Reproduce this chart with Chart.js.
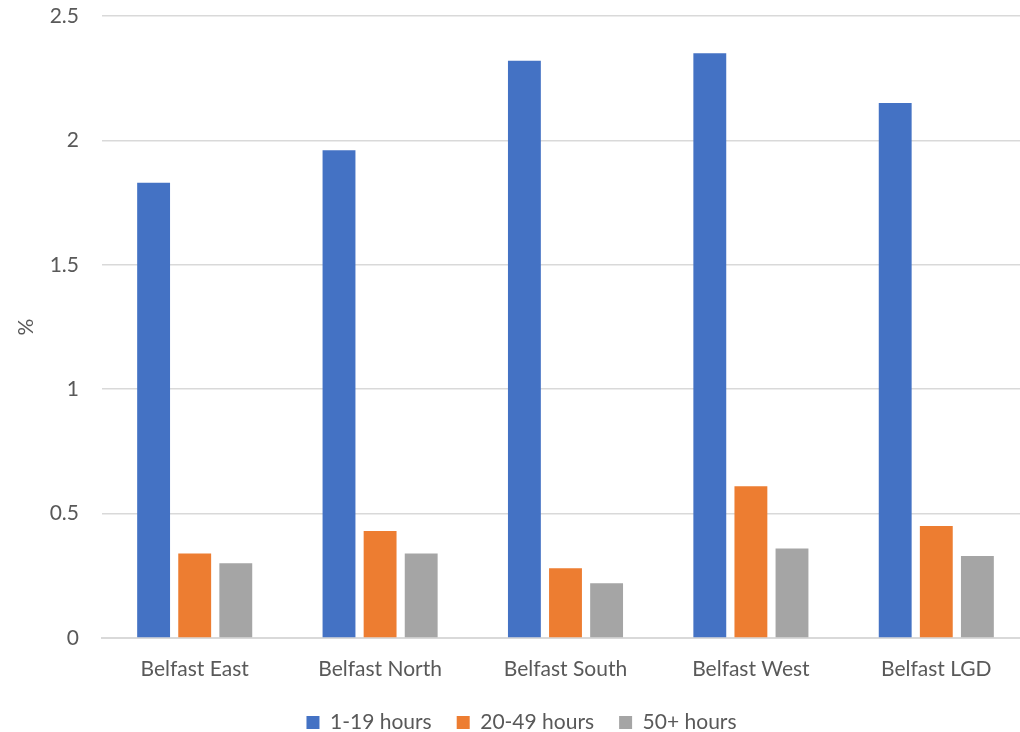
<!DOCTYPE html>
<html lang="en">
<head>
    <meta charset="UTF-8">
    <title>Hours of care by area</title>
    <script src="https://cdn.jsdelivr.net/npm/chart.js"></script>
    <style>
        html, body { margin: 0; padding: 0; background: #fff; overflow: hidden; }
        .wrap { width: 1029px; height: 732px; }
    </style>
</head>
<body>
    <div class="wrap"><canvas id="chart" width="1029" height="732"></canvas></div>

    <script>
        // data
        const areas = ['Belfast East', 'Belfast North', 'Belfast South', 'Belfast West', 'Belfast LGD'];
        const hours1to19 = [1.83, 1.96, 2.32, 2.35, 2.15];
        const hours20to49 = [0.34, 0.43, 0.28, 0.61, 0.45];
        const hours50plus = [0.30, 0.34, 0.22, 0.36, 0.33];
        const seriesNames = ['1-19 hours', '20-49 hours', '50+ hours'];
        const yTicks = [0, 0.5, 1, 1.5, 2, 2.5];

        const textColor = '#595959';
        const fontFamily = 'Lato, "Open Sans", sans-serif';

        new Chart(document.getElementById('chart'), {
            type: 'bar',
            data: {
                labels: areas,
                datasets: [
                    { label: seriesNames[0], data: hours1to19, backgroundColor: '#4472C4' },
                    { label: seriesNames[1], data: hours20to49, backgroundColor: '#ED7D31' },
                    { label: seriesNames[2], data: hours50plus, backgroundColor: '#A5A5A5' }
                ]
            },
            options: {
                responsive: false,
                animation: false,
                layout: { padding: { top: 16, left: 14, right: 0, bottom: -11 } },
                datasets: {
                    bar: { barPercentage: 0.8, categoryPercentage: 0.665 }
                },
                plugins: {
                    legend: {
                        position: 'bottom',
                        labels: {
                            boxWidth: 13,
                            boxHeight: 13,
                            padding: 25,
                            color: textColor,
                            font: { family: fontFamily, size: 21 }
                        }
                    },
                    tooltip: { enabled: false }
                },
                scales: {
                    x: {
                        grid: { display: false, drawTicks: false },
                        border: { color: '#d9d9d9', width: 2 },
                        ticks: {
                            color: textColor,
                            padding: 19,
                            font: { family: fontFamily, size: 21 }
                        },
                        afterFit: scale => { scale.height = 49; }
                    },
                    y: {
                        min: 0,
                        max: 2.5,
                        afterBuildTicks: scale => { scale.ticks = yTicks.map(v => ({ value: v })); },
                        grid: { color: '#d9d9d9', lineWidth: 1.5, drawTicks: false },
                        border: { display: false },
                        ticks: {
                            color: textColor,
                            padding: 23,
                            font: { family: fontFamily, size: 21 },
                            callback: v => String(v)
                        },
                        title: {
                            display: true,
                            text: '%',
                            color: textColor,
                            padding: 0,
                            font: { family: fontFamily, size: 21 }
                        },
                        afterFit: scale => {
                            scale.width = 88;
                            scale.paddingTop = 0;
                            scale.paddingBottom = 0;
                        }
                    }
                }
            }
        });
    </script>
</body>
</html>
